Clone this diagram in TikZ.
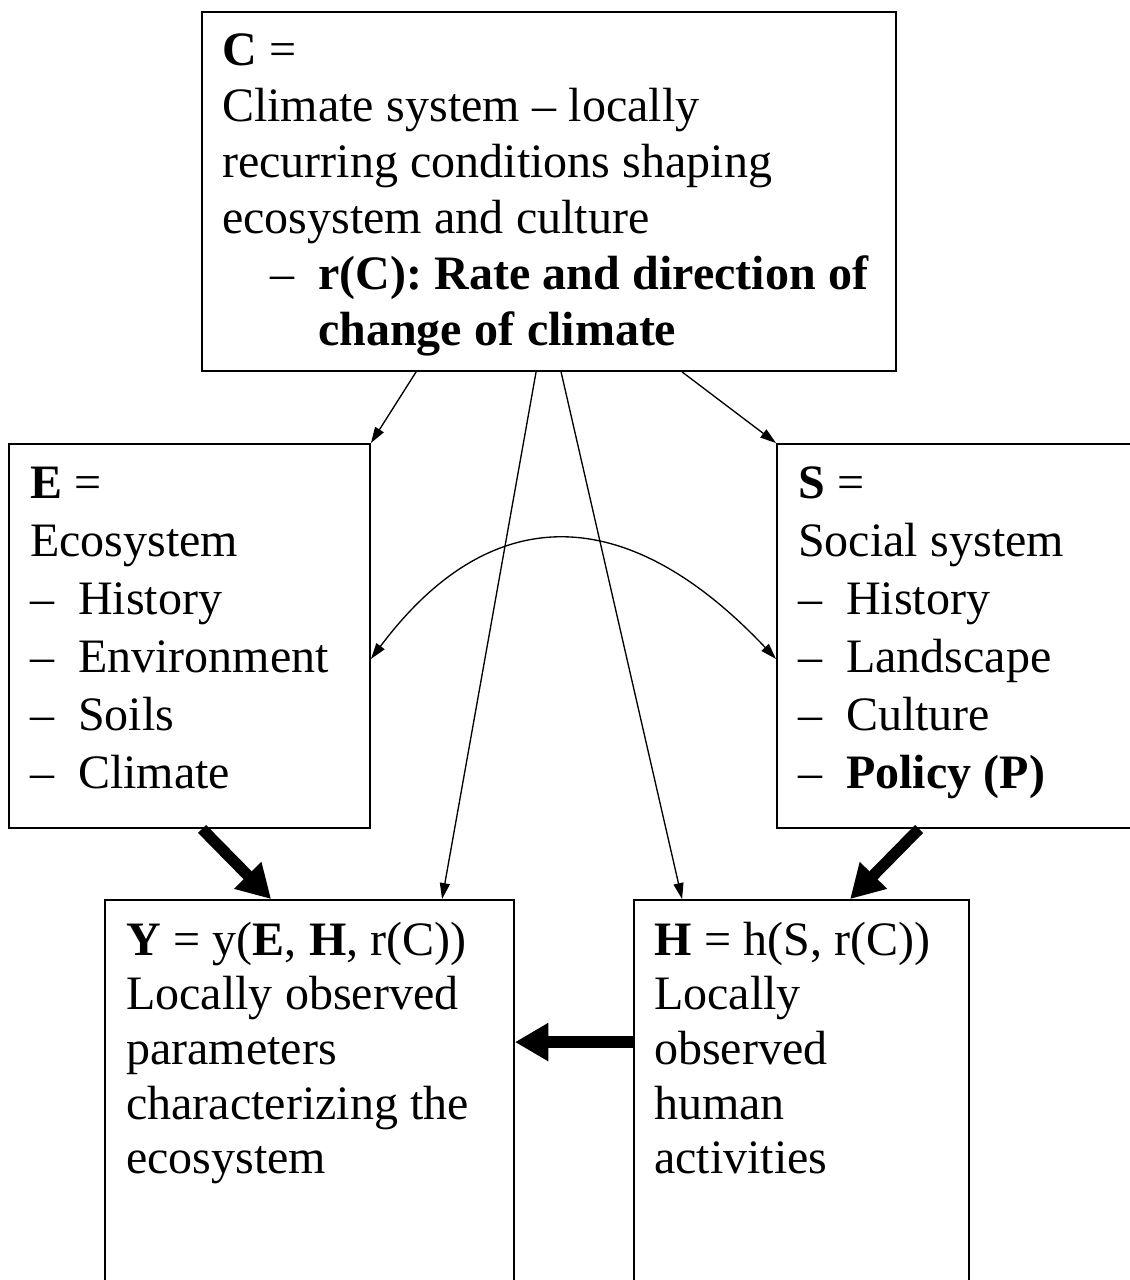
\documentclass[tikz,border=0pt]{standalone}
\usepackage{fontspec}
\setmainfont{Liberation Serif}
\usetikzlibrary{arrows.meta,calc,fit}
\newcommand{\boxfont}[1]{\fontsize{36pt}{#1}\selectfont}
\newcommand{\tightsp}{\spaceskip=9.3pt plus 2pt minus 1pt\relax\xspaceskip=9.3pt plus 2pt\relax}
\begin{document}
\begin{tikzpicture}[x=0.75pt,y=-0.75pt,
  box/.style={draw,line width=1.4pt,inner sep=0pt,rectangle},
  txt/.style={anchor=north west,inner sep=0pt,align=left,text width=600pt},
  thinarr/.style={line width=1pt,-{Triangle[length=12pt,width=7.5pt]}},
  thickarr/.style={line width=8.5pt,-{Triangle[length=25pt,width=27pt]}}]
\path[use as bounding box] (0,0) rectangle (1130,1280);
\clip (0,0) rectangle (1130,1280);
% boxes
\node[box,fit={(202,12) (896,371)}] (C) {};
\node[box,fit={(9,444) (370,828)}] (E) {};
\node[box,fit={(777,444) (1160,828)}] (S) {};
\node[box,fit={(105,900) (514,1320)}] (Y) {};
\node[box,fit={(634,900) (969,1320)}] (H) {};
% texts
\node[txt,font=\boxfont{42pt}] (Ct) at (222,25.8)
 {\tightsp\strut\textbf{C} =\\
  Climate system – locally\\
  recurring conditions shaping\\
  ecosystem and culture\\
  \hspace*{1em}\makebox[1em][l]{–}\textbf{r(C): Rate and direction of}\\
  \hspace*{2em}\textbf{change of climate}};
\node[txt,font=\boxfont{43.5pt}] (Et) at (30,457.4)
 {\tightsp\strut\textbf{E} =\\
  Ecosystem\\
  \makebox[1em][l]{–}History\\
  \makebox[1em][l]{–}Environment\\
  \makebox[1em][l]{–}Soils\\
  \makebox[1em][l]{–}Climate};
\node[txt,font=\boxfont{43.5pt}] (St) at (798,457.4)
 {\tightsp\strut\textbf{S} =\\
  Social system\\
  \makebox[1em][l]{–}History\\
  \makebox[1em][l]{–}Landscape\\
  \makebox[1em][l]{–}Culture\\
  \makebox[1em][l]{–}\textbf{Policy (P)}};
\node[txt,font=\boxfont{41pt}] (Yt) at (126,916.7)
 {\tightsp\strut\textbf{Y} = y(\textbf{E}, \textbf{H}, r(C))\\
  Locally observed\\
  parameters\\
  characterizing the\\
  ecosystem};
\node[txt,font=\boxfont{41pt}] (Ht) at (654,916.7)
 {\tightsp\strut\textbf{H} = h(S, r(C))\\
  Locally\\
  observed\\
  human\\
  activities};
% thin connectors from C
\draw[thinarr] ($(C.south west)+(215,0)$) -- (E.north east);
\draw[thinarr] ($(C.south west)+(481,0)$) -- (S.north west);
\draw[thinarr] ($(C.south west)+(335,0)$) -- ($(Y.north west)+(338,0)$);
\draw[thinarr] ($(C.south west)+(360,0)$) -- ($(H.north west)+(49,0)$);
% curved double arrow between E and S
\draw[line width=1pt,{Triangle[length=12pt,width=7.5pt]}-{Triangle[length=12pt,width=7.5pt]}]
  ($(E.east)+(0,23)$) .. controls (490,500) and (626,500) .. ($(S.west)+(0,23)$);
% thick arrows
\draw[thickarr] ($(E.south west)+(194,0)$) -- ($(Y.north west)+(167,0)$);
\draw[thickarr] ($(S.south west)+(143,0)$) -- ($(H.north west)+(217,0)$);
\draw[thickarr] ($(H.north west)+(0,143)$) -- ($(Y.north east)+(0,143)$);
\end{tikzpicture}
\end{document}
